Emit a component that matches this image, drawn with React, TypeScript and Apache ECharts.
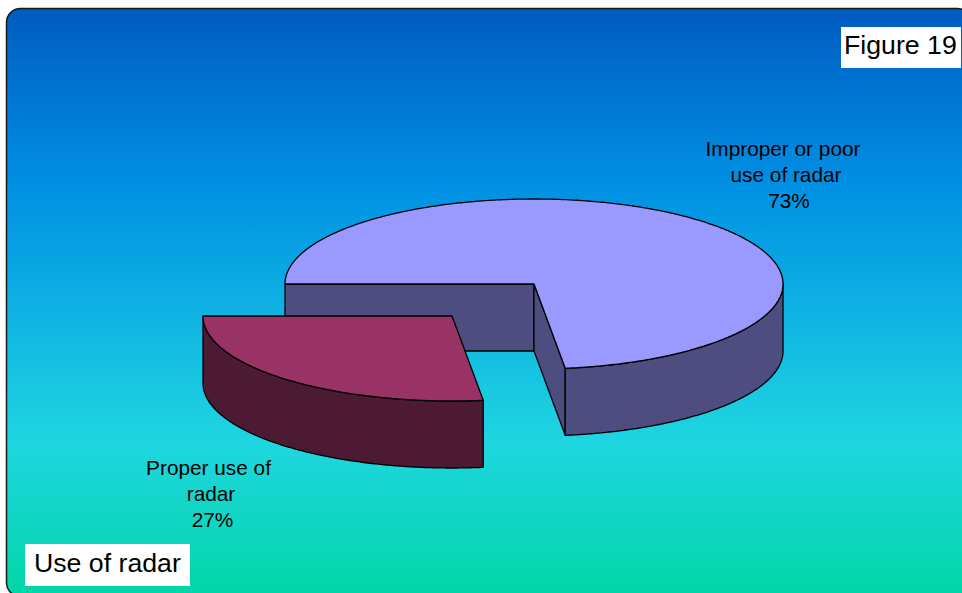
import React, { useEffect, useRef } from "react";
import * as echarts from "echarts";

const categories = ["Improper or poor use of radar", "Proper use of radar"];
const shares = [73, 27];
const topColors = ["#9999FF", "#993366"];
const sideColors = ["#4D4D80", "#4D1A33"];

const FONT = '"Liberation Sans", Arial, sans-serif';
const RX = 249;
const RY = 85;
const DEPTH = 67;
const CENTER = [534, 284];
const EXPLODE = [
  [0, 0],
  [-82, 32],
];
const START_DEG = -90;

const rad = (d: number) => (d * Math.PI) / 180;

function renderSlice(params: any, api: any) {
  const i = params.dataIndex;
  let before = 0;
  let total = 0;
  shares.forEach((_, k) => {
    const v = api.value(0, k);
    total += v;
    if (k < i) before += v;
  });
  const a0 = START_DEG + (before / total) * 360;
  const a1 = a0 + (api.value(0) / total) * 360;
  const cx = CENTER[0] + EXPLODE[i][0];
  const cy = CENTER[1] + EXPLODE[i][1];
  const pt = (a: number, dy = 0) => [cx + RX * Math.sin(rad(a)), cy - RY * Math.cos(rad(a)) + dy];
  const arc = (from: number, to: number, dy = 0) => {
    const n = Math.max(2, Math.ceil(Math.abs(to - from) * 2));
    const out: number[][] = [];
    for (let k = 0; k <= n; k++) out.push(pt(from + ((to - from) * k) / n, dy));
    return out;
  };
  const line = { stroke: "#000", lineWidth: 1.3, lineJoin: "round" };
  const children: any[] = [];
  const face = (a: number) => ({
    type: "polygon",
    shape: {
      points: [[cx, cy], pt(a), pt(a, DEPTH), [cx, cy + DEPTH]],
    },
    style: { fill: sideColors[i], ...line },
  });
  if (Math.sin(rad(a0)) < 0) children.push(face(a0));
  if (Math.sin(rad(a1)) > 0) children.push(face(a1));
  const w0 = Math.max(a0, 90);
  const w1 = Math.min(a1, 270);
  if (w1 > w0) {
    children.push({
      type: "polygon",
      shape: { points: [...arc(w0, w1), ...arc(w1, w0, DEPTH)] },
      style: { fill: sideColors[i], ...line },
    });
  }
  children.push({
    type: "polygon",
    shape: { points: [[cx, cy], ...arc(a0, a1)] },
    style: { fill: topColors[i], ...line },
  });
  return { type: "group", children };
}

const labelLines = [
  { text: "Improper or poor", x: 783, y: 148 },
  { text: "use of radar", x: 786, y: 174 },
  { text: `${shares[0]}%`, x: 789, y: 200 },
  { text: "Proper use of", x: 208.5, y: 467 },
  { text: "radar", x: 211, y: 493 },
  { text: `${shares[1]}%`, x: 212.5, y: 519 },
];

export default function App() {
  const ref = useRef<HTMLDivElement>(null);
  useEffect(() => {
    const chart = echarts.init(ref.current!, undefined, { renderer: "svg" });
    chart.setOption({
      animation: false,
      backgroundColor: "#fff",
      series: [
        {
          type: "custom",
          coordinateSystem: "none",
          renderItem: renderSlice,
          clip: false,
          z: 5,
          data: shares.map((v, k) => ({ name: categories[k], value: [v] })),
        },
      ],
      graphic: [
        {
          type: "rect",
          z: -1,
          silent: true,
          shape: { x: 6.5, y: 8.5, width: 965, height: 588, r: 14 },
          style: {
            stroke: "#1a1a1a",
            lineWidth: 1.5,
            fill: {
              type: "linear",
              x: 0,
              y: 0,
              x2: 0,
              y2: 1,
              colorStops: [
                { offset: 0, color: "#005CC0" },
                { offset: 0.3, color: "#0090E4" },
                { offset: 0.74, color: "#1FD6E0" },
                { offset: 1, color: "#00D6A6" },
              ],
            },
          },
        },
        { type: "rect", z: 10, shape: { x: 841, y: 27, width: 120, height: 41 }, style: { fill: "#fff" } },
        { type: "rect", z: 10, shape: { x: 25, y: 544, width: 165, height: 42 }, style: { fill: "#fff" } },
        {
          type: "text",
          z: 11,
          x: 844,
          y: 45,
          style: { text: "Figure 19", font: `26.7px ${FONT}`, fill: "#000", textAlign: "left", textVerticalAlign: "middle" },
        },
        {
          type: "text",
          z: 11,
          x: 34,
          y: 563,
          style: { text: "Use of radar", font: `26.7px ${FONT}`, fill: "#000", textAlign: "left", textVerticalAlign: "middle" },
        },
        ...labelLines.map((l) => ({
          type: "text",
          z: 11,
          x: l.x,
          y: l.y,
          style: { text: l.text, font: `20.8px ${FONT}`, fill: "#000", textAlign: "center", textVerticalAlign: "middle" },
        })),
      ],
    });
    return () => chart.dispose();
  }, []);
  return <div ref={ref} style={{ position: "absolute", left: 0, top: 0, width: 962, height: 593 }} />;
}
